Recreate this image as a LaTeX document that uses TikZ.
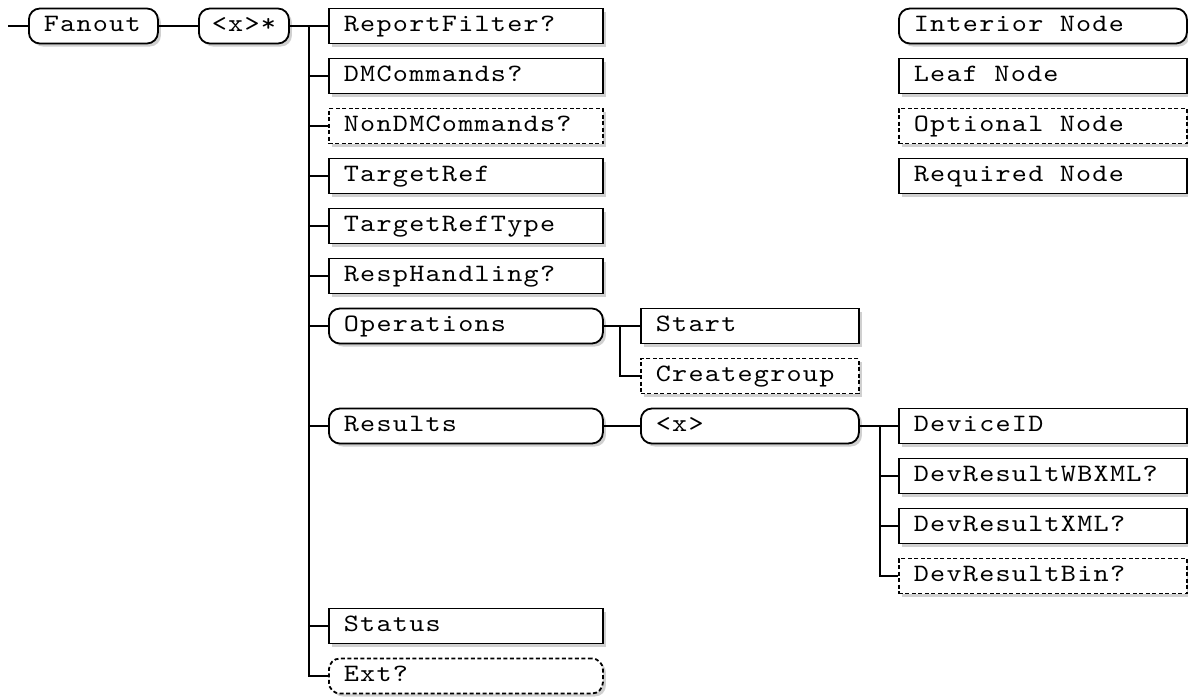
\documentclass[tikz,border=0pt]{standalone}
\usepackage{fontspec}
\usetikzlibrary{shadows}
\newfontfamily\lmboxfont{lmmono10-regular.otf}[FakeStretch=1.15, LetterSpace=5]
\newcommand{\boxfontcmd}{\lmboxfont\fontsize{25}{29}\selectfont}
\newcommand{\msp}{\hspace*{16.4pt}}
\tikzset{
  base/.style={draw, line width=1.8pt, minimum height=35pt, inner xsep=15pt, inner ysep=0pt,
    anchor=west, align=left, text height=16pt, text depth=5pt, font=\boxfontcmd, fill=white,
    drop shadow={shadow xshift=3pt, shadow yshift=-3pt, fill=black!30, opacity=0.6}},
  leaf/.style={base, rectangle},
  inode/.style={base, rounded corners=11pt},
  opt/.style={dash pattern=on 4pt off 2.5pt},
  conn/.style={line width=1.8pt},
}
\begin{document}
\begin{tikzpicture}[x=1pt,y=-1pt]
\useasboundingbox[fill=white] (0,0) rectangle (1188,696);
% main chain
\coordinate (entry) at (8,26);
\node[inode, text width=99pt] (fan) at (28,26) {Fanout};
\node[inode, inner xsep=13pt, text width=64pt] (xs) at (198,26) {<x>*};
% left column
\node[leaf, text width=244pt] (rf) at (328,26) {ReportFilter?};
\node[leaf, text width=244pt] (dm) at (328,76) {DMCommands?};
\node[leaf, opt, text width=244pt] (ndm) at (328,126) {NonDMCommands?};
\node[leaf, text width=244pt] (tr) at (328,176) {TargetRef};
\node[leaf, text width=244pt] (trt) at (328,226) {TargetRefType};
\node[leaf, text width=244pt] (rh) at (328,276) {RespHandling?};
\node[inode, text width=244pt] (ops) at (328,326) {Operations};
\node[inode, text width=244pt] (res) at (328,426) {Results};
\node[leaf, text width=244pt] (st) at (328,626) {Status};
\node[inode, opt, text width=244pt] (ext) at (328,676) {Ext?};
% operations children
\node[leaf, text width=188pt] (startn) at (640,326) {Start};
\node[leaf, opt, text width=188pt] (cg) at (640,376) {Creategroup};
% results children
\node[inode, text width=188pt] (xr) at (640,426) {<x>};
\node[leaf, text width=258pt] (did) at (898,426) {DeviceID};
\node[leaf, text width=258pt] (wb) at (898,476) {DevResultWBXML?};
\node[leaf, text width=258pt] (xml) at (898,526) {DevResultXML?};
\node[leaf, opt, text width=258pt] (bin) at (898,576) {DevResultBin?};
% legend
\node[inode, text width=258pt] (lint) at (898,26) {Interior\msp Node};
\node[leaf, text width=258pt] (lleaf) at (898,76) {Leaf\msp Node};
\node[leaf, opt, text width=258pt] (lopt) at (898,126) {Optional\msp Node};
\node[leaf, text width=258pt] (lreq) at (898,176) {Required\msp Node};
% connectors
\draw[conn] (entry) -- (fan.west);
\draw[conn] (fan.east) -- (xs.west);
\draw[conn] (xs.east) -- (rf.west);
\coordinate (b1) at (309,26);
\draw[conn] (b1) |- (ext.west);
\foreach \c in {dm,ndm,tr,trt,rh,ops,res,st}{
  \draw[conn] (b1 |- \c.west) -- (\c.west);
}
\draw[conn] (ops.east) -- (startn.west);
\coordinate (b2) at (620,326);
\draw[conn] (b2) |- (cg.west);
\draw[conn] (res.east) -- (xr.west);
\draw[conn] (xr.east) -- (did.west);
\coordinate (b3) at (880,426);
\draw[conn] (b3) |- (bin.west);
\foreach \c in {wb,xml}{
  \draw[conn] (b3 |- \c.west) -- (\c.west);
}
\end{tikzpicture}
\end{document}
